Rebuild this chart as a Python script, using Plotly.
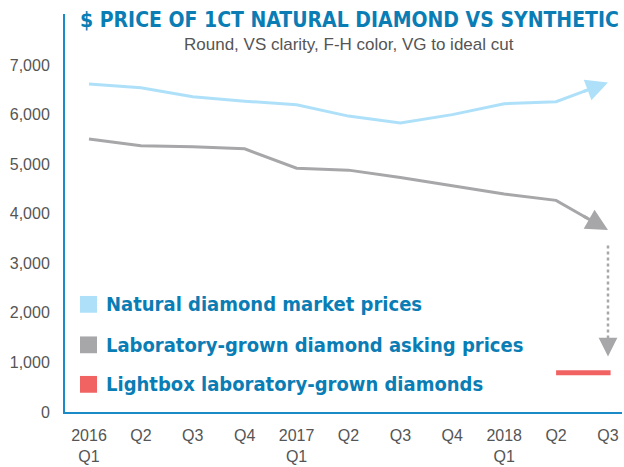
import plotly.graph_objects as go

quarters = ["2016<br>Q1", "Q2", "Q3", "Q4", "2017<br>Q1", "Q2", "Q3", "Q4", "2018<br>Q1", "Q2", "Q3"]
natural = [6620, 6540, 6360, 6270, 6200, 5970, 5830, 6000, 6220, 6260, 6650]
lab_grown = [5510, 5370, 5350, 5310, 4920, 4880, 4730, 4560, 4400, 4270, 3670]
lab_projection = [3360, 1120]
lightbox_x = [9.0, 10.05]
lightbox = [790, 790]
yticks = [0, 1000, 2000, 3000, 4000, 5000, 6000, 7000]
legend_labels = ["Natural diamond market prices",
                 "Laboratory-grown diamond asking prices",
                 "Lightbox laboratory-grown diamonds"]

BLUE = "#0a7db5"
LIGHT = "#aee1f9"
GREY = "#a7a7aa"
RED = "#f06362"
COND = "DejaVu Sans Condensed"

W, H = 624, 467
ml, mr, mt, mb = 65, 2, 14, 50
pw, ph = W - ml - mr, H - mt - mb

def px(xp):
    return (xp - ml) / pw

def py(yp):
    return 1 - (yp - mt) / ph

idx = list(range(len(quarters)))
fig = go.Figure()
fig.add_trace(go.Scatter(x=idx[:-1] + [idx[-2] + 0.6], y=natural[:-1] + [natural[-2] + 0.6 * (natural[-1] - natural[-2])],
                         mode="lines", line=dict(color=LIGHT, width=3), hoverinfo="skip"))
fig.add_trace(go.Scatter(x=idx[:-1] + [idx[-2] + 0.6], y=lab_grown[:-1] + [lab_grown[-2] + 0.6 * (lab_grown[-1] - lab_grown[-2])],
                         mode="lines", line=dict(color=GREY, width=3), hoverinfo="skip"))
fig.add_trace(go.Scatter(x=[idx[-1], idx[-1]], y=[lab_projection[0], lab_projection[1] + 250], mode="lines",
                         line=dict(color=GREY, width=2.5, dash="dot"), hoverinfo="skip"))
fig.add_trace(go.Scatter(x=lightbox_x, y=lightbox, mode="lines",
                         line=dict(color=RED, width=5), hoverinfo="skip"))

for series, col in [(natural, LIGHT), (lab_grown, GREY)]:
    fig.add_annotation(x=idx[-1], y=series[-1], ax=idx[-2] + 0.5, ay=series[-2] + 0.5 * (series[-1] - series[-2]),
                       xref="x", yref="y", axref="x", ayref="y", text="",
                       showarrow=True, arrowhead=2, arrowsize=1.45, arrowwidth=3, arrowcolor=col)
fig.add_annotation(x=idx[-1], y=lab_projection[-1], ax=idx[-1], ay=lab_projection[-1] + 300,
                   xref="x", yref="y", axref="x", ayref="y", text="",
                   showarrow=True, arrowhead=2, arrowsize=1.5, arrowwidth=2.5, arrowcolor=GREY)

fig.add_annotation(x=px(349), y=py(20), xref="paper", yref="paper", xanchor="center", yanchor="middle",
                   text="<b>$ PRICE OF 1CT NATURAL DIAMOND VS SYNTHETIC</b>",
                   showarrow=False, font=dict(family=COND, size=21, color=BLUE))
fig.add_annotation(x=px(349), y=py(45), xref="paper", yref="paper", xanchor="center", yanchor="middle",
                   text="Round, VS clarity, F-H color, VG to ideal cut",
                   showarrow=False, font=dict(family="Liberation Sans", size=17, color="#555555"))

for label, col, yc in zip(legend_labels, [LIGHT, GREY, RED], [308, 349, 389]):
    fig.add_shape(type="rect", xref="paper", yref="paper",
                  x0=px(80), x1=px(97), y0=py(yc - 8.5), y1=py(yc + 8.5),
                  fillcolor=col, line=dict(width=0))
    fig.add_annotation(x=px(104), y=py(yc), xref="paper", yref="paper", text="<b>" + label + "</b>",
                       xanchor="left", yanchor="middle", showarrow=False,
                       font=dict(family=COND, size=20, color=BLUE))

fig.update_layout(
    width=W, height=H, margin=dict(l=ml, r=mr, t=mt, b=mb),
    paper_bgcolor="white", plot_bgcolor="white", showlegend=False,
    xaxis=dict(range=[-0.462, 10.27], tickvals=idx, ticktext=quarters, showgrid=False, zeroline=False,
               showline=True, linecolor="#1a8bc6", linewidth=2, ticks="",
               tickfont=dict(family="Liberation Sans", size=16, color="#555555"), ticklabelstandoff=8),
    yaxis=dict(range=[0, 8030], tickvals=yticks, tickformat=",", showgrid=False, zeroline=False,
               showline=True, linecolor="#1a8bc6", linewidth=2, ticks="",
               tickfont=dict(family="Liberation Sans", size=16, color="#555555"), ticklabelstandoff=10),
)

fig.write_html("out.html", config={"displayModeBar": False},
               post_script="document.body.style.margin='0';")
